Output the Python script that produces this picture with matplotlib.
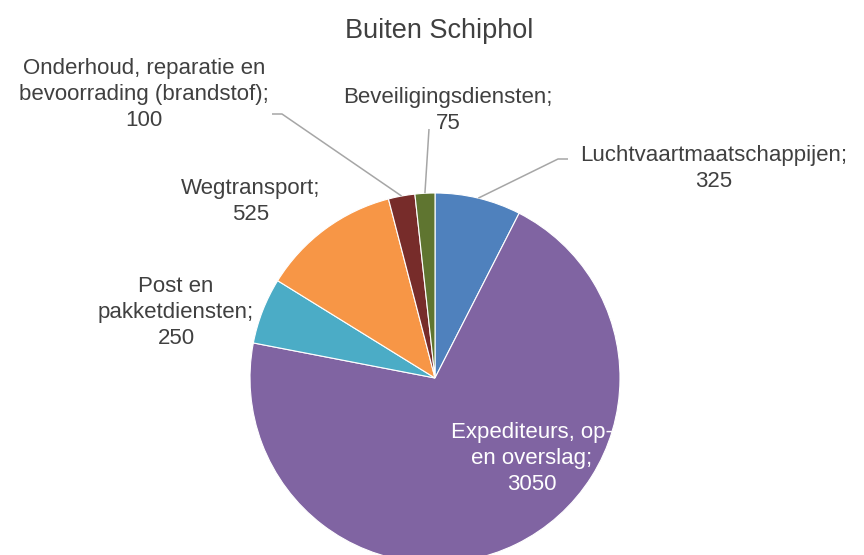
import numpy as np
import matplotlib
matplotlib.use('Agg')
import matplotlib.pyplot as plt

plt.rcParams['font.family'] = ['Liberation Sans', 'DejaVu Sans']

# data
categories = ['Luchtvaartmaatschappijen', 'Expediteurs, op- en overslag',
              'Post en pakketdiensten', 'Wegtransport',
              'Onderhoud, reparatie en bevoorrading (brandstof)',
              'Beveiligingsdiensten']
values = [325, 3050, 250, 525, 100, 75]
colors = ['#4F81BD', '#8064A2', '#4BACC6', '#F79646', '#772C2A', '#5F7530']
label_lines = [
    ['Luchtvaartmaatschappijen;', '325'],
    ['Expediteurs, op-', 'en overslag;', '3050'],
    ['Post en', 'pakketdiensten;', '250'],
    ['Wegtransport;', '525'],
    ['Onderhoud, reparatie en', 'bevoorrading (brandstof);', '100'],
    ['Beveiligingsdiensten;', '75'],
]

W, H = 864, 555
fig = plt.figure(figsize=(W / 100, H / 100), dpi=100)

# pie axes: centre (435, 378) px, radius 185 px
cx, cy, r = 435, 378, 185
ax = fig.add_axes([(cx - r) / W, (H - cy - r) / H, 2 * r / W, 2 * r / H])
wedges, _ = ax.pie(values, colors=colors, startangle=90, counterclock=False,
                   radius=1,
                   wedgeprops=dict(edgecolor='white', linewidth=0.8, clip_on=False))
ax.set_xlim(-1, 1)
ax.set_ylim(-1, 1)
ax.axis('off')

# overlay in pixel coords for labels and leader lines
ov = fig.add_axes([0, 0, 1, 1], zorder=5)
ov.set_xlim(0, W)
ov.set_ylim(H, 0)
ov.axis('off')

txt_col = '#404040'
fs = 16

ov.text(439, 38, 'Buiten Schiphol', ha='center', va='baseline',
        fontsize=19.5, color=txt_col)

# label placement: centre x, first baseline, pitch, colour
label_pos = [
    (714, 161, 26, txt_col),
    (532, 438, 26, 'white'),
    (176, 292, 26, txt_col),
    (251, 194, 26, txt_col),
    (144, 74, 26, txt_col),
    (448, 103, 26, txt_col),
]
for lines, (x, y0, pitch, c) in zip(label_lines, label_pos):
    for k, s in enumerate(lines):
        ov.text(x, y0 + k * pitch, s, ha='center', va='baseline',
                fontsize=fs, color=c)

# leader lines from the wedge mid-angle
leaders = {0: [(558, 159), (568, 159)],
           4: [(282, 114), (272, 114)],
           5: [(429, 129)]}
to_px = ov.transData.inverted()
for i, pts in leaders.items():
    w = wedges[i]
    a = np.deg2rad((w.theta1 + w.theta2) / 2)
    start = to_px.transform(ax.transData.transform((np.cos(a), np.sin(a))))
    xs = [start[0]] + [p[0] for p in pts]
    ys = [start[1]] + [p[1] for p in pts]
    ov.plot(xs, ys, color='#A6A6A6', lw=1.1, solid_capstyle='butt')

fig.savefig('out.png', dpi=100)
